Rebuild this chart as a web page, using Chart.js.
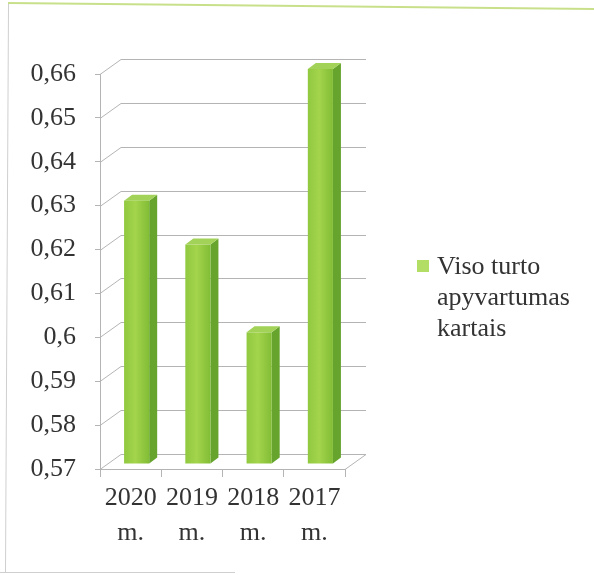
<!DOCTYPE html>
<html>
<head>
<meta charset="utf-8">
<script src="https://cdn.jsdelivr.net/npm/chart.js@4/dist/chart.umd.min.js"></script>
<style>
  body { margin: 0; background: #fff; }
  #wrap { width: 594px; height: 575px; position: relative; }
</style>
</head>
<body>
<div id="wrap"><canvas id="chart" width="594" height="575"></canvas></div>
<script>
const years = ['2020', '2019', '2018', '2017'];
const turnover = [0.63, 0.62, 0.60, 0.66];
const legendLines = ['Viso turto', 'apyvartumas', 'kartais'];
const yMin = 0.57;
const yMax = 0.66;
const yStep = 0.01;

const textColor = '#333333';
const gridColor = '#b4b4b4';
const fontFamily = "'Liberation Serif'";

// 3d look: back wall offset and bar placement inside the depth
const wall = { dx: 21, dy: -15 };
const barShift = { dx: 6, dy: -5 };
const barDepth = { dx: 8, dy: -6 };

Chart.defaults.font.family = fontFamily;

function formatTick(value) {
  return Number(value.toFixed(2)).toString().replace('.', ',');
}

const framePlugin = {
  id: 'frame',
  beforeDraw(chart) {
    const ctx = chart.ctx;
    ctx.save();
    ctx.strokeStyle = '#c9e08a';
    ctx.lineWidth = 2;
    ctx.beginPath();
    ctx.moveTo(8, 3);
    ctx.lineTo(594, 9);
    ctx.stroke();
    ctx.strokeStyle = '#cfcfcf';
    ctx.lineWidth = 1;
    ctx.beginPath();
    ctx.moveTo(8.5, 4);
    ctx.lineTo(5.5, 572);
    ctx.moveTo(0, 572.5);
    ctx.lineTo(235, 572.5);
    ctx.stroke();
    ctx.restore();
  },
};

const wallPlugin = {
  id: 'wall3d',
  beforeDatasetsDraw(chart) {
    const { ctx, chartArea, scales } = chart;
    const y = scales.y;
    ctx.save();
    ctx.strokeStyle = gridColor;
    ctx.lineWidth = 1;
    y.ticks.forEach((t) => {
      const py = Math.round(y.getPixelForValue(t.value)) + 0.5;
      ctx.beginPath();
      ctx.moveTo(chartArea.left, py);
      ctx.lineTo(chartArea.left + wall.dx, py + wall.dy);
      ctx.lineTo(chartArea.right + wall.dx, py + wall.dy);
      ctx.stroke();
    });
    // floor right edge
    const by = Math.round(y.getPixelForValue(yMin)) + 0.5;
    ctx.beginPath();
    ctx.moveTo(chartArea.right, by);
    ctx.lineTo(chartArea.right + wall.dx, by + wall.dy);
    ctx.stroke();
    ctx.restore();
  },
  afterDatasetsDraw(chart) {
    const ctx = chart.ctx;
    const meta = chart.getDatasetMeta(0);
    const floor = chart.scales.y.getPixelForValue(yMin);
    ctx.save();
    meta.data.forEach((bar) => {
      const p = bar.getProps(['x', 'y', 'base', 'width'], true);
      const l = p.x - p.width / 2 + barShift.dx;
      const r = p.x + p.width / 2 + barShift.dx;
      const t = p.y + barShift.dy;
      const b = Math.min(p.base, floor) + barShift.dy;
      // side face
      ctx.fillStyle = '#66a42e';
      ctx.beginPath();
      ctx.moveTo(r, t);
      ctx.lineTo(r + barDepth.dx, t + barDepth.dy);
      ctx.lineTo(r + barDepth.dx, b + barDepth.dy);
      ctx.lineTo(r, b);
      ctx.closePath();
      ctx.fill();
      // top face
      ctx.fillStyle = '#a2d258';
      ctx.beginPath();
      ctx.moveTo(l, t);
      ctx.lineTo(l + barDepth.dx, t + barDepth.dy);
      ctx.lineTo(r + barDepth.dx, t + barDepth.dy);
      ctx.lineTo(r, t);
      ctx.closePath();
      ctx.fill();
      // front face
      const g = ctx.createLinearGradient(l, 0, r, 0);
      g.addColorStop(0, '#90c940');
      g.addColorStop(0.45, '#a3d44c');
      g.addColorStop(1, '#82bd36');
      ctx.fillStyle = g;
      ctx.fillRect(l, t, r - l, b - t);
    });
    ctx.restore();
  },
};

const legendPlugin = {
  id: 'sideLegend',
  afterDraw(chart) {
    const ctx = chart.ctx;
    const x0 = chart.chartArea.right + 72;
    const y0 = 267;
    ctx.save();
    ctx.fillStyle = '#b3de66';
    ctx.fillRect(x0, y0 - 7, 12, 12);
    ctx.fillStyle = textColor;
    ctx.font = '26px ' + fontFamily;
    ctx.textBaseline = 'middle';
    legendLines.forEach((line, i) => {
      ctx.fillText(line, x0 + 20, y0 + i * 31);
    });
    ctx.restore();
  },
};

new Chart(document.getElementById('chart'), {
  type: 'bar',
  data: {
    labels: years.map((yr) => [yr, 'm.']),
    datasets: [
      {
        label: legendLines.join(' '),
        data: turnover,
        base: yMin,
        backgroundColor: 'rgba(0,0,0,0)',
        borderWidth: 0,
        categoryPercentage: 1,
        barPercentage: 0.41,
      },
    ],
  },
  options: {
    responsive: false,
    animation: false,
    layout: { padding: { top: 74, right: 249, bottom: 20, left: 0 } },
    plugins: {
      legend: { display: false },
      tooltip: { enabled: false },
    },
    scales: {
      x: {
        offset: true,
        grid: {
          offset: true,
          drawOnChartArea: false,
          drawTicks: true,
          tickLength: 8,
          color: gridColor,
        },
        border: { display: true, color: gridColor },
        ticks: {
          color: textColor,
          font: { family: fontFamily, size: 26, lineHeight: 1.34 },
          padding: 4,
          maxRotation: 0,
        },
        afterFit(scale) {
          scale.height = 86;
        },
      },
      y: {
        min: yMin,
        max: yMax,
        grid: {
          drawOnChartArea: false,
          drawTicks: true,
          tickLength: 5,
          color: gridColor,
        },
        border: { display: true, color: gridColor },
        ticks: {
          stepSize: yStep,
          color: textColor,
          font: { family: fontFamily, size: 26 },
          padding: 19,
          callback: (v) => formatTick(v),
        },
        afterFit(scale) {
          scale.width = 100;
        },
      },
    },
  },
  plugins: [framePlugin, wallPlugin, legendPlugin],
});
</script>
</body>
</html>
